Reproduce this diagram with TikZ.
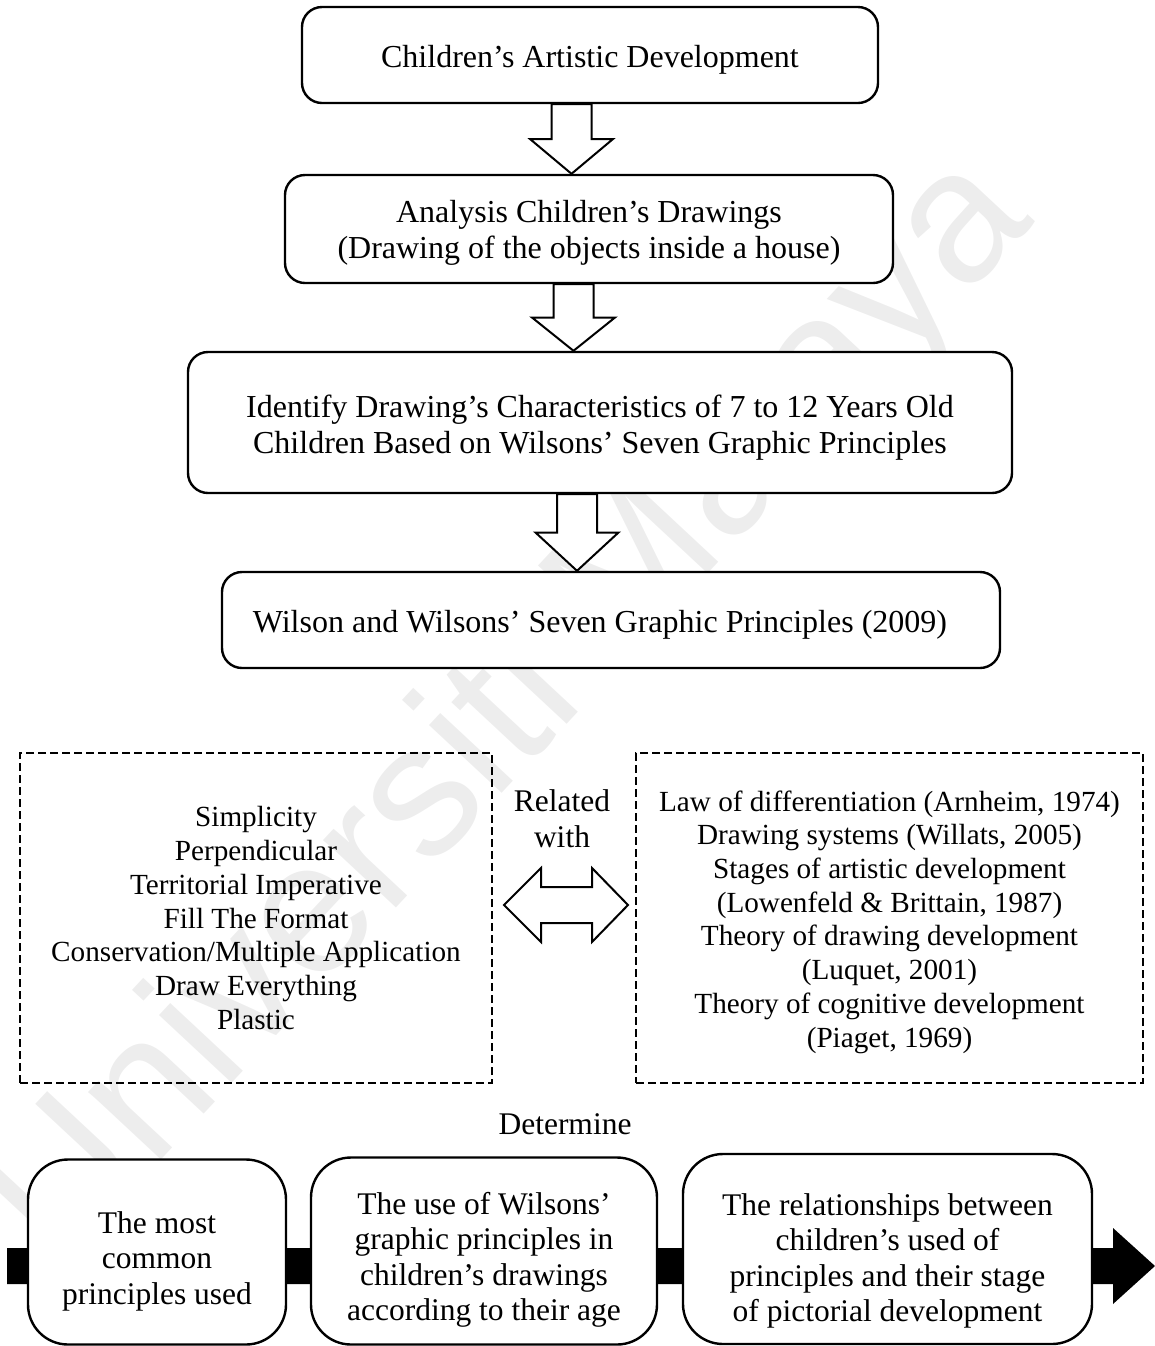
\documentclass[tikz,border=0pt]{standalone}
\usepackage{fontspec}
\setmainfont{Liberation Serif}
\newfontfamily\wmfont{Liberation Sans}
\usetikzlibrary{calc}

% hollow block arrow pointing down, on the vertical axis through #1,
% from the lower edge of node #2 to the upper edge of node #3
\newcommand\hollowdown[3]{%
  \coordinate (hA) at (#2.south -| #1);
  \coordinate (hB) at (#3.north -| #1);
  \coordinate (hM) at ($(hA)!.5!(hB)$);
  \draw[hollow] ($(hA)+(-20,0)$) -- ($(hA)+(20,0)$) -- ($(hM)+(20,0)$)
    -- ($(hM)+(41.5,0)$) -- (hB) -- ($(hM)+(-41.5,0)$) -- ($(hM)+(-20,0)$) -- cycle;}

\begin{document}
\begin{tikzpicture}[x=0.5pt,y=-0.5pt,
  box/.style={draw, line width=1.2pt, rounded corners=10pt, fill=white, inner sep=0pt},
  topbox/.style={box},
  toptext/.style={align=center, inner sep=0pt, font=\fontsize{16}{18}\selectfont},
  dashbox/.style={draw, line width=1.2pt, dash pattern=on 4pt off 2pt, inner sep=0pt},
  dashtext/.style={align=center, inner sep=0pt, font=\fontsize{14.6}{16.85}\selectfont},
  outbox/.style={box, rounded corners=20pt},
  outtext/.style={align=center, inner sep=0pt, font=\fontsize{15.75}{17.75}\selectfont},
  caption/.style={align=center, inner sep=0pt, font=\fontsize{15.75}{18}\selectfont},
  hollow/.style={draw, line width=1pt, fill=white, line join=miter}
]
\useasboundingbox (0,0) rectangle (1155,1346);

% faint watermark behind the chart
\node[rotate=47, text=black!7, inner sep=0pt,
  font=\wmfont\fontsize{94}{94}\selectfont] (wm) at (512,712) {Universiti Malaya};

% top chain
\node[topbox, minimum width=288pt, minimum height=48pt] (b1) at (590,55) {};
\node[toptext] (b1t) at (590,60) {Children’s Artistic Development};
\node[topbox, minimum width=304pt, minimum height=54pt] (b2) at (589,229) {};
\node[toptext] (b2t) at (589,233)
  {Analysis Children’s Drawings\\(Drawing of the objects inside a house)};
\node[topbox, minimum width=412pt, minimum height=70.5pt] (b3) at (600,422.5) {};
\node[toptext] (b3t) at (600,427.5)
  {Identify Drawing’s Characteristics of 7 to 12 Years Old\\Children Based on Wilsons’ Seven Graphic Principles};
\node[topbox, minimum width=389pt, minimum height=48pt] (b4) at (611,620) {};
\node[toptext] (b4t) at (600,625) {Wilson and Wilsons’ Seven Graphic Principles (2009)};

\coordinate (ax1) at (571.5,0);
\coordinate (ax2) at (573.5,0);
\coordinate (ax3) at (577,0);
\hollowdown{ax1}{b1}{b2}
\hollowdown{ax2}{b2}{b3}
\hollowdown{ax3}{b3}{b4}

% principles and related theories
\node[dashbox, minimum width=236pt, minimum height=165pt] (pr) at (256,918) {};
\node[dashtext] (prt) at (256,918)
  {Simplicity\\Perpendicular\\Territorial Imperative\\Fill The Format\\Conservation/Multiple Application\\Draw Everything\\Plastic};
\node[dashbox, minimum width=253.5pt, minimum height=165pt] (th) at (889.5,918) {};
\node[dashtext] (tht) at (889.5,922)
  {Law of differentiation (Arnheim, 1974)\\Drawing systems (Willats, 2005)\\Stages of artistic development\\(Lowenfeld \& Brittain, 1987)\\Theory of drawing development\\(Luquet, 2001)\\Theory of cognitive development\\(Piaget, 1969)};

\node[caption] (rw) at (562,819) {Related\\with};
\coordinate (rel) at (566,905);
\draw[hollow] ($(rel)+(-62,0)$) -- ($(rel)+(-25,-37)$) -- ($(rel)+(-25,-18)$)
  -- ($(rel)+(26,-18)$) -- ($(rel)+(26,-37)$) -- ($(rel)+(62,0)$)
  -- ($(rel)+(26,37)$) -- ($(rel)+(26,18)$) -- ($(rel)+(-25,18)$)
  -- ($(rel)+(-25,37)$) -- cycle;

\node[caption] (det) at (565,1124) {Determine};

% outcome row on a solid arrow
\coordinate (barL) at (7,1266);
\coordinate (barR) at (1155,1266);
\fill ($(barL)+(0,-18)$) -- ($(barR)+(-42,-18)$) -- ($(barR)+(-42,-38)$) -- (barR)
  -- ($(barR)+(-42,38)$) -- ($(barR)+(-42,18)$) -- ($(barL)+(0,18)$) -- cycle;

\node[outbox, minimum width=129pt, minimum height=92.5pt] (o1) at (157,1252) {};
\node[outtext] (o1t) at (157,1261) {The most\\common\\principles used};
\node[outbox, minimum width=173pt, minimum height=93.5pt] (o2) at (484,1251) {};
\node[outtext] (o2t) at (484,1260)
  {The use of Wilsons’\\graphic principles in\\children’s drawings\\according to their age};
\node[outbox, minimum width=204.5pt, minimum height=95pt] (o3) at (887.5,1249) {};
\node[outtext] (o3t) at (887.5,1261)
  {The relationships between\\children’s used of\\principles and their stage\\of pictorial development};
\end{tikzpicture}
\end{document}
